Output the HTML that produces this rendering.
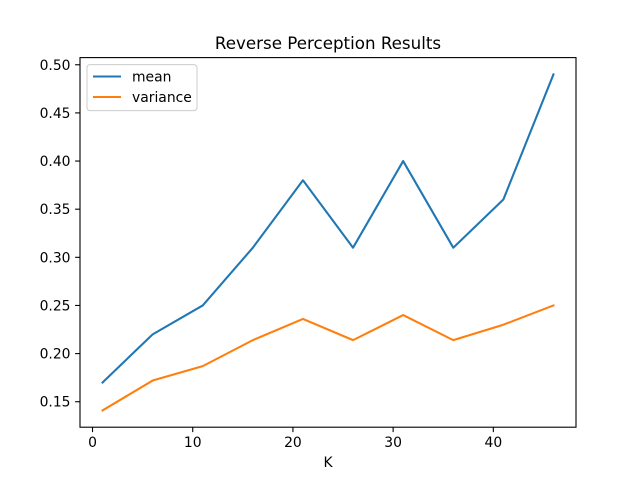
<!DOCTYPE html>
<html><head><meta charset="utf-8"><style>
body{margin:0;background:#fff;}
svg{display:block;font-family:"DejaVu Sans","Liberation Sans",sans-serif;}
</style></head><body>
<svg id="chart" width="640" height="480">
<rect x="0" y="0" width="640" height="480" fill="#fff"/>
</svg>
<script>
const categories=[1,6,11,16,21,26,31,36,41,46];
const meanValues=[0.17,0.22,0.25,0.31,0.38,0.31,0.40,0.31,0.36,0.49];
const varianceValues=[0.141,0.172,0.187,0.214,0.236,0.214,0.24,0.214,0.23,0.25];
const xTicks=[0,10,20,30,40];
const yTicks=[0.15,0.20,0.25,0.30,0.35,0.40,0.45,0.50];

const svg=document.getElementById('chart');
const NS='http://www.w3.org/2000/svg';
const L=80,R=576,T=57.6,B=427.2;
const xmin=Math.min(...categories),xmax=Math.max(...categories);
const xm=(xmax-xmin)*0.05;
const x0=xmin-xm,x1=xmax+xm;
const all=meanValues.concat(varianceValues);
const ymin=Math.min(...all),ymax=Math.max(...all),ym=(ymax-ymin)*0.05;
const y0=ymin-ym,y1=ymax+ym;
const sx=v=>L+(v-x0)/(x1-x0)*(R-L);
const sy=v=>B-(v-y0)/(y1-y0)*(B-T);
function el(tag,attrs,text){const e=document.createElementNS(NS,tag);for(const k in attrs)e.setAttribute(k,attrs[k]);if(text!==undefined)e.textContent=text;svg.appendChild(e);return e;}

xTicks.forEach(t=>{
  const x=sx(t);
  const l=el('line',{x1:x,x2:x,y1:B,y2:B+4.9,stroke:'#000','stroke-width':1.1});
  
  
  const tx=el('text',{x:x,y:B+20,'text-anchor':'middle','font-size':13.9},String(t));
  
  
});
yTicks.forEach(t=>{
  const y=sy(t);
  const l=el('line',{x1:L-4.9,x2:L,y1:y,y2:y,stroke:'#000','stroke-width':1.1});
  
  
  const tx=el('text',{x:L-9.5,y:y+5,'text-anchor':'end','font-size':13.9},t.toFixed(2));
  
  
});
function series(vals,color,name){
  const p=el('polyline',{points:categories.map((c,i)=>sx(c)+','+sy(vals[i])).join(' '),fill:'none',stroke:color,'stroke-width':2.08,'stroke-linejoin':'round','stroke-linecap':'square'});
  
  
}
series(meanValues,'#1f77b4','mean-line');
series(varianceValues,'#ff7f0e','variance-line');
const fr=el('rect',{x:L,y:T,width:R-L,height:B-T,fill:'none',stroke:'#000','stroke-width':1.1});


const ti=el('text',{x:(L+R)/2,y:T-8.5,'text-anchor':'middle','font-size':16.7},'Reverse Perception Results');


const xl=el('text',{x:(L+R)/2,y:B+40,'text-anchor':'middle','font-size':13.9},'K');


const lg=el('rect',{x:87,y:64.6,width:110,height:46,fill:'#fff','fill-opacity':0.8,stroke:'#ccc','stroke-width':1,rx:3});


[['mean','#1f77b4',76.5],['variance','#ff7f0e',97]].forEach(([n,c,y])=>{
  const l=el('line',{x1:93,x2:121,y1:y,y2:y,stroke:c,'stroke-width':2.08});
  
  
  const t=el('text',{x:132,y:y+5,'font-size':13.9},n);
  
  
});
</script>
</body></html>
